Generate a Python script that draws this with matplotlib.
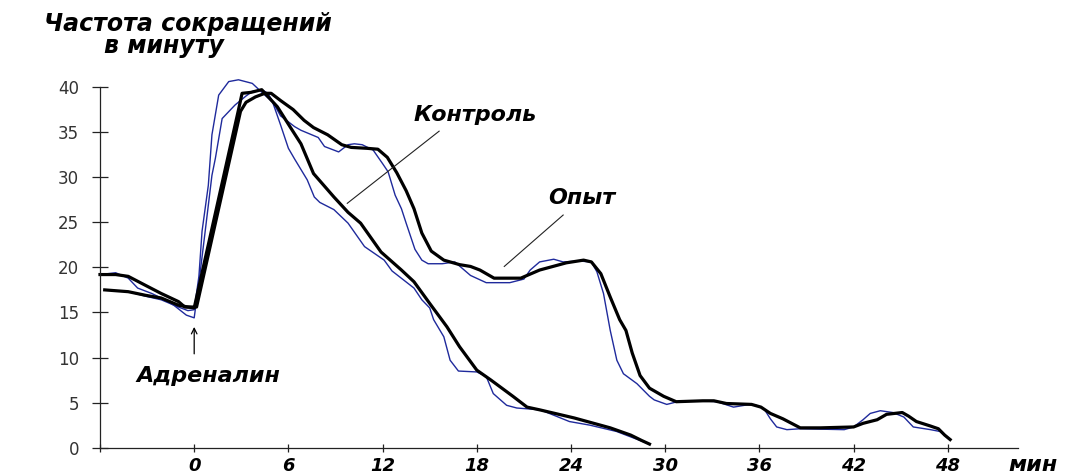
import matplotlib.pyplot as plt

# time, min (adrenaline given at t = 0)
# control: smoothed curve and raw record
control_t = [-5.7, -4.2, -3.1, -2.1, -1.0, -0.4, 0.0, 2.8, 3.05, 3.6, 4.3, 5.3, 6.1, 6.8, 7.6,
             8.9, 9.8, 10.6, 11.9, 13.2, 14.0, 15.0, 16.1, 16.9, 18.0, 18.9, 20.3, 21.2, 22.0,
             24.2, 26.5, 27.8, 28.5, 29.0]
control_y = [17.5, 17.3, 16.9, 16.6, 15.8, 15.6, 15.5, 37.3, 39.3, 39.4, 39.7, 37.8, 35.6, 33.7,
             30.4, 27.8, 26.1, 24.9, 21.7, 19.7, 18.4, 16.0, 13.4, 11.2, 8.6, 7.5, 5.7, 4.5, 4.2,
             3.3, 2.2, 1.4, 0.8, 0.4]

control_raw_t = [-5.7, -4.2, -3.1, -2.1, -1.0, -0.4, 0.0, 0.3, 0.5, 0.9, 1.13, 1.56, 2.2, 2.82,
                 3.7, 4.5, 5.0, 5.5, 6.0, 6.4, 7.2, 7.65, 8.0, 8.9, 9.8, 10.85, 12.1, 12.6, 14.0,
                 14.5, 15.0, 15.25, 15.9, 16.3, 16.83, 18.0, 18.6, 19.05, 19.9, 20.55, 22.05,
                 23.9, 25.2, 26.9, 29.0]
control_raw_y = [17.5, 17.3, 16.8, 16.4, 15.6, 15.2, 15.3, 19.0, 24.0, 29.1, 34.7, 39.1, 40.6,
                 40.8, 40.4, 39.1, 38.3, 35.8, 33.2, 32.0, 29.7, 27.8, 27.2, 26.4, 24.9, 22.3,
                 20.8, 19.6, 17.7, 16.4, 15.5, 14.2, 12.3, 9.7, 8.5, 8.4, 7.9, 6.0, 4.7, 4.4, 4.2,
                 2.9, 2.5, 1.8, 0.4]

# experiment: smoothed curve and raw record
exp_t = [-6.0, -5.0, -4.2, -3.1, -2.1, -1.0, -0.6, 0.15, 2.95, 3.3, 3.9, 4.5, 4.9, 5.5, 6.3, 7.0,
         7.6, 8.5, 9.4, 10.0, 11.0, 11.7, 12.3, 12.9, 13.5, 14.0, 14.5, 15.1, 15.9, 16.9, 17.6,
         18.2, 19.1, 20.8, 22.0, 23.7, 24.8, 25.3, 25.9, 26.5, 27.1, 27.5, 27.9, 28.4, 29.0,
         29.9, 30.7, 32.4, 33.1, 33.9, 35.5, 36.1, 36.7, 37.5, 38.6, 39.9, 42.0, 42.6, 43.5,
         44.1, 45.1, 45.5, 46.0, 46.9, 47.4, 47.8, 48.15]
exp_y = [19.2, 19.2, 19.0, 18.0, 17.1, 16.2, 15.6, 15.6, 37.3, 38.3, 38.9, 39.3, 39.3, 38.5,
         37.5, 36.3, 35.5, 34.7, 33.6, 33.3, 33.2, 33.1, 32.2, 30.5, 28.5, 26.5, 23.8, 21.8,
         20.8, 20.3, 20.1, 19.7, 18.8, 18.8, 19.7, 20.5, 20.8, 20.6, 19.3, 16.7, 14.2, 13.0,
         10.5, 8.0, 6.6, 5.7, 5.1, 5.2, 5.2, 4.9, 4.8, 4.5, 3.8, 3.2, 2.2, 2.2, 2.3, 2.7, 3.1,
         3.7, 3.9, 3.5, 2.9, 2.4, 2.1, 1.4, 0.9]

exp_raw_t = [-6.0, -5.0, -4.2, -3.6, -2.7, -2.1, -1.3, -0.5, 0.0, 0.35, 0.7, 1.13, 1.35, 1.78,
             2.6, 3.3, 3.7, 4.3, 4.7, 5.5, 6.4, 6.8, 7.9, 8.3, 8.9, 9.2, 9.8, 10.2, 10.7, 11.4,
             12.0, 12.35, 12.8, 13.2, 13.5, 14.06, 14.5, 14.9, 15.8, 16.6, 17.2, 17.6, 18.6,
             20.1, 21.0, 21.4, 22.0, 22.9, 23.5, 24.5, 25.3, 25.65, 26.07, 26.5, 26.92, 27.34,
             28.2, 29.0, 29.3, 30.1, 31.0, 32.2, 33.3, 34.35, 35.4, 35.8, 36.3, 36.7, 37.1,
             37.75, 38.6, 41.4, 42.0, 42.6, 43.06, 43.7, 44.5, 45.2, 45.8, 46.9, 47.5, 48.05]
exp_raw_y = [19.2, 19.4, 18.8, 17.7, 17.1, 16.6, 15.8, 14.7, 14.4, 19.0, 24.0, 30.2, 32.1, 36.5,
             38.0, 39.0, 39.5, 39.7, 39.3, 36.8, 35.6, 35.2, 34.4, 33.4, 33.0, 32.8, 33.6, 33.7,
             33.6, 33.0, 31.5, 30.6, 28.0, 26.5, 24.9, 22.0, 20.8, 20.4, 20.4, 20.6, 19.7, 19.1,
             18.3, 18.3, 18.7, 19.7, 20.6, 20.9, 20.6, 20.7, 20.6, 19.5, 17.1, 13.0, 9.7, 8.2,
             7.1, 5.7, 5.3, 4.8, 5.2, 5.2, 5.1, 4.5, 4.8, 4.7, 4.3, 3.2, 2.3, 2.0, 2.1, 2.0, 2.3,
             3.1, 3.8, 4.1, 3.9, 3.4, 2.3, 2.0, 1.8, 1.0]

x_ticks = [0, 6, 12, 18, 24, 30, 36, 42, 48]
y_ticks = [0, 5, 10, 15, 20, 25, 30, 35, 40]

RAW_COLOR = '#1f2a9c'
label_font = dict(fontsize=16, fontweight='bold', fontstyle='italic', color='black')

fig = plt.figure(figsize=(10.66, 4.74), dpi=100)
ax = fig.add_axes([0.0938, 0.0555, 0.8616, 0.780])

ax.plot(control_raw_t, control_raw_y, color=RAW_COLOR, lw=1.0, clip_on=False)
ax.plot(exp_raw_t, exp_raw_y, color=RAW_COLOR, lw=1.0, clip_on=False)
ax.plot(control_t, control_y, color='black', lw=2.3, clip_on=False)
ax.plot(exp_t, exp_y, color='black', lw=2.3, clip_on=False)

# leader lines for the curve labels
ax.plot([15.6, 9.75], [35.1, 27.1], color='#222222', lw=0.8)
ax.plot([23.5, 19.75], [25.8, 20.1], color='#222222', lw=0.8)
ax.text(17.9, 36.9, 'Контроль', ha='center', va='center', **label_font)
ax.text(24.7, 27.7, 'Опыт', ha='center', va='center', **label_font)

ax.annotate('', xy=(0, 13.7), xytext=(0, 10.1),
            arrowprops=dict(arrowstyle='->', color='black', lw=0.9))
ax.text(0.9, 8.0, 'Адреналин', ha='center', va='center', **label_font)

ax.set_xlim(-6, 52.5)
ax.set_ylim(0, 41)
ax.spines['top'].set_visible(False)
ax.spines['right'].set_visible(False)
ax.spines['left'].set_bounds(0, 40)
for side in ('left', 'bottom'):
    ax.spines[side].set_linewidth(0.9)
    ax.spines[side].set_color('#222222')

ax.set_xticks([-6] + x_ticks)
ax.set_xticklabels([''] + [str(v) for v in x_ticks],
                   fontsize=13, fontweight='bold', fontstyle='italic')
ax.set_yticks(y_ticks)
ax.set_yticklabels([str(v) for v in y_ticks], fontsize=12, color='#333333')
ax.tick_params(axis='x', direction='inout', length=6, width=0.9, pad=4, color='#222222')
ax.tick_params(axis='y', direction='inout', length=12, width=0.9, pad=9, color='#222222')

fig.text(1033 / 1066, 1 - 465 / 474, 'мин', ha='center', va='center', **label_font)
fig.text(188 / 1066, 1 - 24 / 474, 'Частота сокращений', ha='center', va='center',
         fontsize=17, fontweight='bold', fontstyle='italic')
fig.text(164 / 1066, 1 - 46 / 474, 'в минуту', ha='center', va='center',
         fontsize=17, fontweight='bold', fontstyle='italic')

fig.savefig('out.png', dpi=100)
